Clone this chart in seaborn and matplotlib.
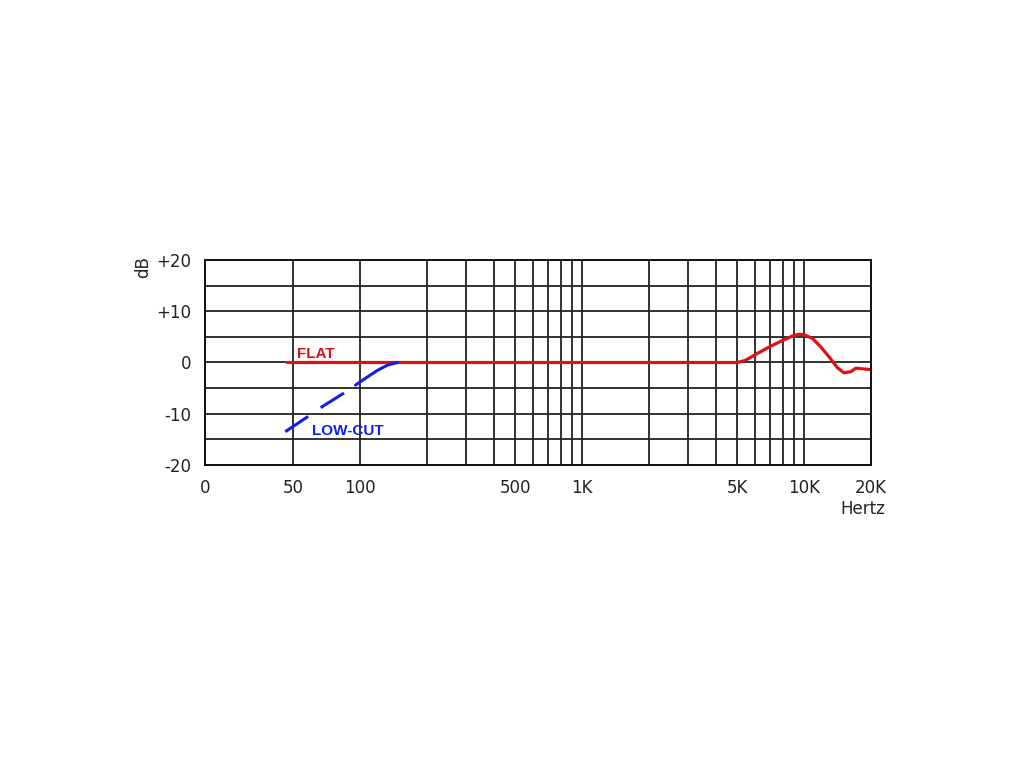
import matplotlib
matplotlib.use("Agg")
import matplotlib.pyplot as plt
import seaborn as sns

# frequency response (Hz, dB)
flat_hz = [47, 5000, 5430, 6000, 7000, 8000, 9000, 9500, 10000, 10900, 11900, 13000, 14100, 15100, 16200, 17100, 20000]
flat_db = [0, 0, 0.4, 1.5, 3.1, 4.3, 5.3, 5.5, 5.4, 4.7, 3.0, 1.0, -1.0, -2.0, -1.8, -1.1, -1.4]

lowcut_hz = [46, 57.9, 65.3, 83.5, 95.3, 108, 120, 133, 147]
lowcut_db = [-13.5, -10.6, -9.0, -6.1, -4.4, -2.8, -1.5, -0.5, 0]

major_hz = [20, 50, 100, 500, 1000, 5000, 10000, 20000]
major_labels = ["0", "50", "100", "500", "1K", "5K", "10K", "20K"]
minor_hz = [200, 300, 400, 600, 700, 800, 900, 2000, 3000, 4000, 6000, 7000, 8000, 9000]
db_ticks = [-20, -10, 0, 10, 20]
db_labels = ["-20", "-10", "0", "+10", "+20"]
db_grid = [-15, -5, 5, 15]

sns.set_style("white")
plt.rcParams['font.family'] = ['DejaVu Sans']

fig = plt.figure(figsize=(10.24, 7.68), dpi=100)
ax = fig.add_axes([0.2002, 0.3945, 0.6504, 0.267])

red = "#dd1111"
blue = "#1020e8"

sns.lineplot(x=flat_hz, y=flat_db, ax=ax, color=red, linewidth=2.3, sort=False)

# dashed part up to ~95 Hz, then solid up to the flat line
sns.lineplot(x=lowcut_hz[:5], y=lowcut_db[:5], ax=ax, color=blue, linewidth=2.2,
             sort=False, dashes=False)
ax.lines[-1].set_dashes([9, 5])
sns.lineplot(x=lowcut_hz[4:], y=lowcut_db[4:], ax=ax, color=blue, linewidth=2.2, sort=False)

ax.set_xscale("log")
ax.set_xlim(20, 20000)
ax.set_ylim(-20, 20)

ax.set_xticks(major_hz)
ax.set_xticklabels(major_labels)
ax.set_xticks(minor_hz, minor=True)
ax.set_xticklabels([], minor=True)
ax.set_yticks(db_ticks)
ax.set_yticklabels(db_labels)
ax.set_yticks(db_grid, minor=True)

ax.grid(True, which="both", color="#222222", linewidth=1.3)
ax.tick_params(axis="both", which="both", length=0, labelsize=12, colors="#222222")
ax.tick_params(axis="x", pad=10)
ax.tick_params(axis="y", pad=10)
for s in ax.spines.values():
    s.set_visible(True)
    s.set_color("#111111")
    s.set_linewidth(1.4)

ax.set_xlabel("")
ax.set_ylabel("")

ax.text(51.9, 0.9, "FLAT", color=red, fontsize=11, va="baseline", ha="left",
        fontweight="bold", fontstretch="condensed",
        family=["Liberation Sans Narrow", "Liberation Sans", "DejaVu Sans"])
ax.text(60.8, -14.2, "LOW-CUT", color=blue, fontsize=11, va="baseline", ha="left",
        fontweight="bold", fontstretch="condensed",
        family=["Liberation Sans Narrow", "Liberation Sans", "DejaVu Sans"])

ax.text(-0.093, 0.965, "dB", transform=ax.transAxes, rotation=90, fontsize=12,
        ha="center", va="center", color="#222222")
ax.text(1.021, -0.215, "Hertz", transform=ax.transAxes, fontsize=12,
        ha="right", va="center", color="#222222")

fig.savefig("out.png", dpi=100, facecolor="white")
